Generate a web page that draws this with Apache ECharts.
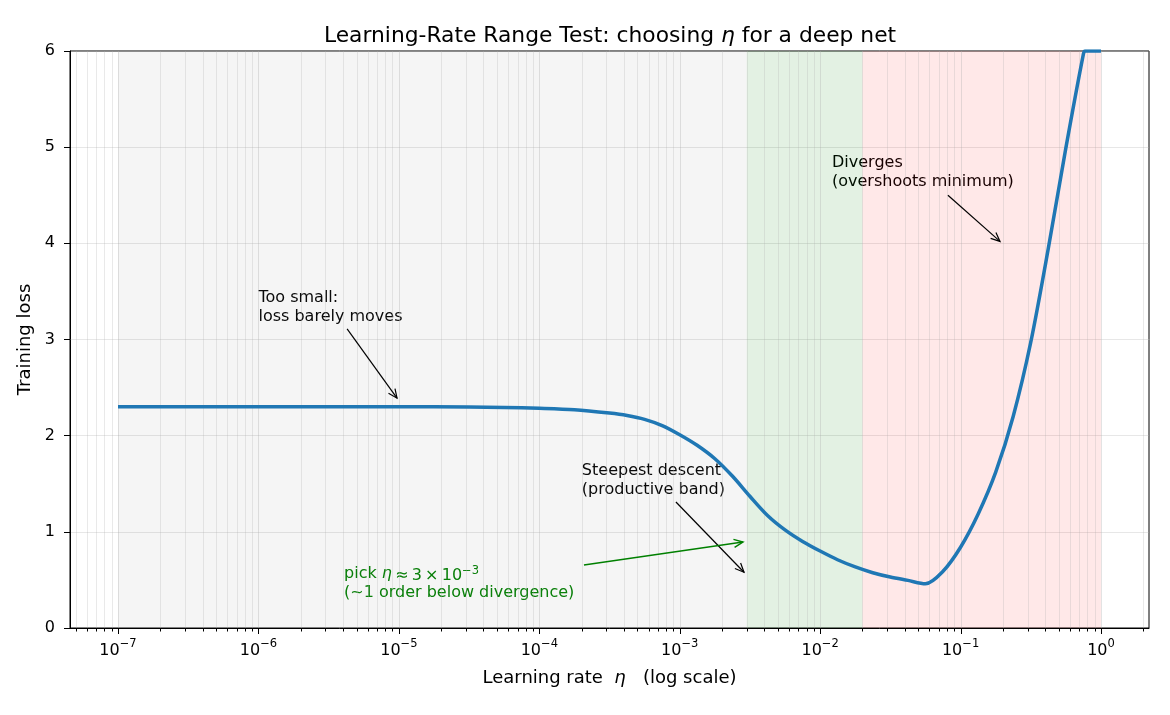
<!DOCTYPE html>
<html>
<head>
<meta charset="utf-8">
<script src="https://cdn.jsdelivr.net/npm/echarts@6/dist/echarts.min.js"></script>
<style>
  html, body { margin: 0; padding: 0; background: #fff; }
  #chart { width: 1170px; height: 715px; }
</style>
</head>
<body>
<div id="chart"></div>
<script>
// learning rate sweep (x) and training loss (y)
const lrs = [1e-7, 1e-6, 1e-5, 3.16e-5, 5.62e-5, 1e-4, 1.78e-4, 3.16e-4, 4.22e-4, 5.62e-4, 7.5e-4,
  1e-3, 1.33e-3, 1.78e-3, 2.37e-3, 3.16e-3, 4.22e-3, 5.62e-3, 7.5e-3,
  1e-2, 1.33e-2, 1.78e-2, 2.37e-2, 3.16e-2, 4.22e-2, 5.62e-2, 7.5e-2,
  0.1, 0.133, 0.178, 0.237, 0.316, 0.422, 0.562, 0.75, 0.77, 0.866, 1.0]
const losses = [2.30, 2.30, 2.30, 2.298, 2.294, 2.285, 2.27, 2.235, 2.21, 2.17, 2.105,
  2.01, 1.90, 1.76, 1.58, 1.37, 1.17, 1.02, 0.90,
  0.80, 0.71, 0.635, 0.575, 0.53, 0.495, 0.46, 0.59,
  0.84, 1.18, 1.62, 2.20, 2.97, 3.95, 4.99, 5.97, 6.00, 6.00, 6.00]

const yTicks = [0, 1, 2, 3, 4, 5, 6]
const pickLr = 3e-3
// shaded regimes: too small / productive / diverging
const bandEdges = [1e-7, 3e-3, 2e-2, 1]

const XMIN = Math.pow(10, -7.342)
const XMAX = Math.pow(10, 0.342)

// grid lines and ticks of the log axis: majors at decades, minors at 2..9 x 10^k
const vLines = []
for (let k = -8; k <= 0; k++) {
  for (let m = 1; m <= 9; m++) {
    const v = m * Math.pow(10, k)
    if (v >= XMIN && v <= XMAX) vLines.push([v, m === 1 ? 1 : 0])
  }
}

const FONT = 'DejaVu Sans'
const chart = echarts.init(document.getElementById('chart'))

chart.setOption({
  animation: false,
  backgroundColor: '#fff',
  title: {
    text: 'Learning-Rate Range Test: choosing {i|η} for a deep net',
    left: 605,
    textAlign: 'center',
    top: 20,
    textStyle: {
      fontFamily: FONT, fontSize: 21.8, fontWeight: 'normal', color: '#000',
      rich: { i: { fontFamily: FONT, fontSize: 21.8, fontStyle: 'italic', color: '#000' } }
    }
  },
  grid: {
    left: 70, right: 21, top: 51, bottom: 87,
    show: true, borderColor: '#000', borderWidth: 1, backgroundColor: 'transparent'
  },
  xAxis: {
    type: 'log',
    logBase: 10,
    min: XMIN,
    max: XMAX,
    name: 'Learning rate  {i|η}   (log scale)',
    nameLocation: 'middle',
    nameGap: 41,
    nameTextStyle: {
      fontFamily: FONT, fontSize: 18, color: '#000',
      rich: { i: { fontFamily: FONT, fontSize: 18, fontStyle: 'italic', color: '#000' } }
    },
    axisLine: { show: true, lineStyle: { color: '#000', width: 1 } },
    axisTick: { show: false },
    splitLine: { show: false },
    axisLabel: {
      showMinLabel: false,
      showMaxLabel: false,
      margin: 10,
      formatter: v => {
        const e = Math.round(Math.log10(v))
        return '{b|10}{s|' + (e < 0 ? '−' + (-e) : e) + '}'
      },
      rich: {
        b: { fontFamily: FONT, fontSize: 16, lineHeight: 21, verticalAlign: 'bottom', color: '#000' },
        s: { fontFamily: FONT, fontSize: 11.5, lineHeight: 13, verticalAlign: 'top', color: '#000' }
      }
    }
  },
  yAxis: {
    type: 'value',
    min: 0,
    max: 6,
    interval: 1,
    name: 'Training loss',
    nameLocation: 'middle',
    nameGap: 31,
    nameTextStyle: { fontFamily: FONT, fontSize: 18, color: '#000' },
    axisLine: { show: true, lineStyle: { color: '#000', width: 1 } },
    axisTick: { show: true, length: 6, lineStyle: { color: '#000', width: 1 } },
    axisLabel: { margin: 15, fontFamily: FONT, fontSize: 16, color: '#000' },
    splitLine: { show: true, lineStyle: { color: 'rgba(176,176,176,0.3)', width: 1 } }
  },
  series: [
    {
      // regime bands
      type: 'line',
      data: [],
      silent: true,
      markArea: {
        silent: true,
        data: [
          [{ xAxis: bandEdges[0], itemStyle: { color: 'rgba(128,128,128,0.08)' } }, { xAxis: bandEdges[1] }],
          [{ xAxis: bandEdges[1], itemStyle: { color: 'rgba(0,128,0,0.11)' } }, { xAxis: bandEdges[2] }],
          [{ xAxis: bandEdges[2], itemStyle: { color: 'rgba(255,0,0,0.09)' } }, { xAxis: bandEdges[3] }]
        ]
      }
    },
    {
      // vertical grid lines + bottom ticks of the log axis
      type: 'custom',
      silent: true,
      clip: false,
      data: vLines,
      renderItem: (params, api) => {
        const x = Math.round(api.coord([api.value(0), 0])[0]) + 0.5
        const cs = params.coordSys
        const major = api.value(1) === 1
        const bottom = cs.y + cs.height
        return {
          type: 'group',
          children: [
            { type: 'line', shape: { x1: x, y1: cs.y, x2: x, y2: bottom },
              style: { stroke: major ? 'rgba(176,176,176,0.35)' : 'rgba(176,176,176,0.28)', lineWidth: 1 } },
            { type: 'line', shape: { x1: x, y1: bottom, x2: x, y2: bottom + (major ? 6 : 3.5) },
              style: { stroke: '#000', lineWidth: 1 } }
          ]
        }
      }
    },
    {
      type: 'line',
      data: lrs.map((x, i) => [x, losses[i]]),
      smooth: 0.3,
      showSymbol: false,
      lineStyle: { color: '#1f77b4', width: 3.5 },
      itemStyle: { color: '#1f77b4' },
      markLine: {
        silent: true,
        symbol: 'none',
        label: { show: false },
        lineStyle: { color: '#008000', type: [9, 4], width: 2.5 },
        data: [{ xAxis: pickLr }]
      },
      z: 3
    }
  ]
})

// annotations: text block (first line, data coords), arrow tail and tip
const notes = [
  { text: 'Too small:\nloss barely moves', at: [1e-6, 3.43], tail: [4.28e-6, 3.11], tip: [9.7e-6, 2.39], color: '#000', width: 1.2 },
  { text: 'Steepest descent\n(productive band)', at: [2.01e-4, 1.63], tail: [9.4e-4, 1.31], tip: [2.87e-3, 0.58], color: '#000', width: 1.2 },
  { text: 'Diverges\n(overshoots minimum)', at: [0.01215, 4.835], tail: [0.0813, 4.50], tip: [0.191, 4.02], color: '#000', width: 1.2 },
  { text: 'pick {i|η}{t|\u2009≈\u20093\u2009×\u200910}{s|−3}\n(~1 order below divergence)', at: [4.07e-6, 0.56], tail: [2.08e-4, 0.655], tip: [2.82e-3, 0.894], color: '#008000', width: 1.5 }
]

const px = p => chart.convertToPixel({ xAxisIndex: 0, yAxisIndex: 0 }, p)
const graphics = []
notes.forEach(n => {
  const a = px(n.at)
  const lh = 19
  graphics.push({
    type: 'text',
    x: a[0], y: a[1] - lh / 2,
    silent: true,
    style: {
      text: n.text,
      fill: n.color,
      fontFamily: FONT,
      fontSize: 16,
      lineHeight: lh,
      align: 'left',
      verticalAlign: 'top',
      rich: {
        i: { fontFamily: FONT, fontSize: 16, fontStyle: 'italic', fill: n.color, lineHeight: lh },
        t: { fontFamily: FONT, fontSize: 16, fill: n.color, lineHeight: lh, verticalAlign: 'bottom' },
        s: { fontFamily: FONT, fontSize: 11.5, fill: n.color, lineHeight: 12, verticalAlign: 'top' }
      }
    }
  })
  const t0 = px(n.tail), t1 = px(n.tip)
  const ang = Math.atan2(t1[1] - t0[1], t1[0] - t0[0])
  const hl = 9, hw = 4
  const bx = t1[0] - hl * Math.cos(ang), by = t1[1] - hl * Math.sin(ang)
  const nx = -Math.sin(ang) * hw, ny = Math.cos(ang) * hw
  graphics.push({
    type: 'line', silent: true, z: 10,
    shape: { x1: t0[0], y1: t0[1], x2: t1[0], y2: t1[1] },
    style: { stroke: n.color, lineWidth: n.width }
  })
  graphics.push({
    type: 'polyline', silent: true, z: 10,
    shape: { points: [[bx + nx, by + ny], [t1[0], t1[1]], [bx - nx, by - ny]] },
    style: { stroke: n.color, lineWidth: n.width, fill: null }
  })
})
chart.setOption({ graphic: graphics })
</script>
</body>
</html>
